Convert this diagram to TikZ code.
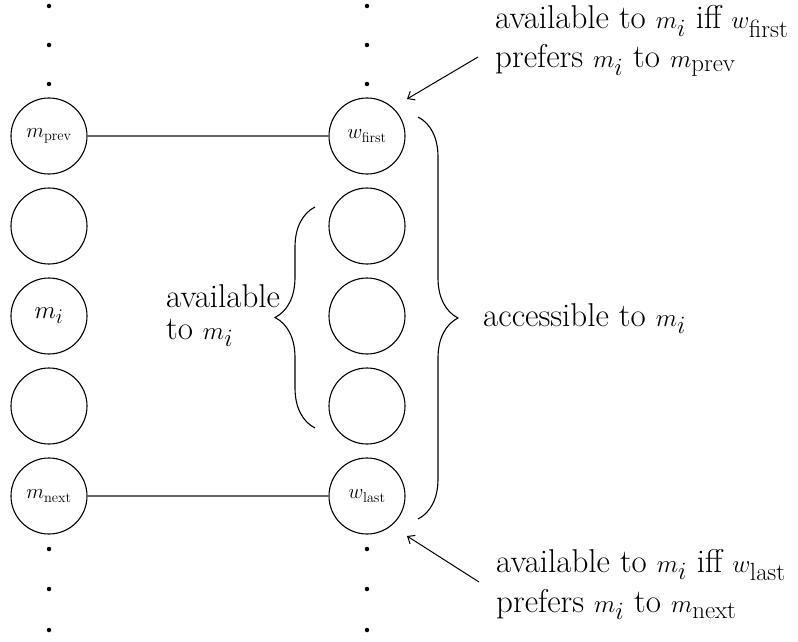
\documentclass[tikz,border=0pt]{standalone}
\usetikzlibrary{decorations.pathreplacing,arrows.meta}
\begin{document}
\begin{tikzpicture}[x=1pt,y=-1pt,
  circ/.style={circle,draw,line width=1.1pt,minimum size=76pt,inner sep=0pt},
  small/.style={font=\fontsize{21}{24}\selectfont},
  txt/.style={font=\fontsize{33}{38}\selectfont,inner sep=0pt},
  dotm/.style={fill,circle,inner sep=0pt,minimum size=4.5pt},
  match/.style={draw=black!60,line width=1.3pt},
  bracem/.style={decorate,decoration={brace,amplitude=40pt},line width=1.1pt},
  pointer/.style={line width=1pt,-{Straight Barb[length=6pt,width=10pt]}}]
\useasboundingbox (0,0) rectangle (798,642);
% dots
\foreach \y [count=\k] in {6,45,84,549,589,630}{
  \node[dotm] (ld\k) at (49,\y) {};
  \node[dotm] (rd\k) at (367,\y) {};
}
% left column
\node[circ,small] (mprev) at (49,136) {$m_{\mathrm{prev}}$};
\node[circ] (l2) at (49,226) {};
\node[circ,font=\fontsize{29}{32}\selectfont] (mi) at (49,316) {$m_i$};
\node[circ] (l4) at (49,406) {};
\node[circ,small] (mnext) at (49,496) {$m_{\mathrm{next}}$};
% right column
\node[circ,small] (wfirst) at (367,136) {$w_{\mathrm{first}}$};
\node[circ] (r2) at (367,226) {};
\node[circ] (r3) at (367,316) {};
\node[circ] (r4) at (367,406) {};
\node[circ,small] (wlast) at (367,496) {$w_{\mathrm{last}}$};
% matches
\draw[match] (mprev) -- (wfirst);
\draw[match] (mnext) -- (wlast);
% braces
\coordinate (bl1) at (315,428);
\coordinate (bl2) at (315,207);
\draw[bracem] (bl1) -- (bl2);
\coordinate (br1) at (418,117);
\coordinate (br2) at (418,519);
\draw[bracem] (br1) -- (br2);
% labels
\node[txt,anchor=base west,text depth=0pt] (av1) at (166,307) {available};
\node[txt,anchor=base west,text height=18pt] (av2) at (166,339) {to $m_i$};
\node[txt,anchor=base west] (acc) at (483,326) {accessible to $m_i$};
\node[txt,anchor=base west] (t1) at (495,29) {available to $m_i$ iff $w_{\mathrm{first}}$};
\node[txt,anchor=base west] (t2) at (495,68) {prefers $m_i$ to $m_{\mathrm{prev}}$};
\node[txt,anchor=base west] (b1) at (496,572) {available to $m_i$ iff $w_{\mathrm{last}}$};
\node[txt,anchor=base west] (b2) at (496,612) {prefers $m_i$ to $m_{\mathrm{next}}$};
% pointers
\coordinate (pa1) at (478,57);
\coordinate (pa2) at (407,99);
\draw[pointer] (pa1) -- (pa2);
\coordinate (pb1) at (479,582);
\coordinate (pb2) at (407,536);
\draw[pointer] (pb1) -- (pb2);
\end{tikzpicture}
\end{document}
